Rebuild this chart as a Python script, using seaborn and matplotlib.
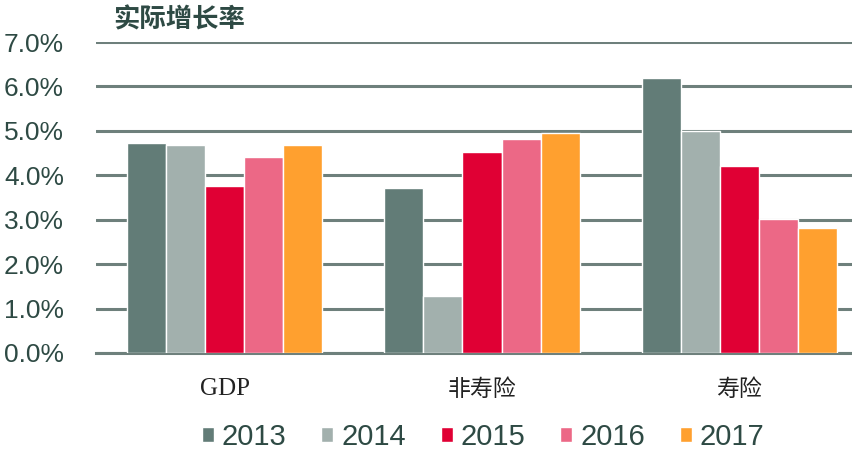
import matplotlib
matplotlib.use("Agg")
import matplotlib.pyplot as plt
import seaborn as sns
import pandas as pd
from matplotlib.ticker import FuncFormatter
from matplotlib import font_manager

categories = ["GDP", "非寿险", "寿险"]
years = ["2013", "2014", "2015", "2016", "2017"]
values = {
    "2013": [4.73, 3.72, 6.19],
    "2014": [4.68, 1.28, 5.00],
    "2015": [3.76, 4.53, 4.21],
    "2016": [4.41, 4.82, 3.02],
    "2017": [4.68, 4.95, 2.82],
}
colors = ["#627C77", "#A2B0AD", "#E00034", "#EC6886", "#FFA02F"]
yticks = [0, 1, 2, 3, 4, 5, 6, 7]

rows = []
for y in years:
    for c, v in zip(categories, values[y]):
        rows.append({"cat": c, "year": y, "val": v})
df = pd.DataFrame(rows)

sns.set_theme(style="white")
plt.rcParams["font.family"] = ["Liberation Sans", "Noto Sans CJK SC"]
text_color = "#2E4A44"

installed = {f.name for f in font_manager.fontManager.ttflist}
serif_cond = "DejaVu Serif Condensed" in installed

W, H = 853, 454
fig = plt.figure(figsize=(W / 100, H / 100), dpi=100)
ax = fig.add_axes([96 / W, (H - 353) / H, 772 / W, 311 / H])

sns.barplot(data=df, x="cat", y="val", hue="year", order=categories,
            hue_order=years, palette=colors, width=0.76, saturation=1,
            edgecolor="white", linewidth=1, ax=ax, zorder=3)

ax.set_ylim(0, 7)
ax.set_xlim(-0.5, 2.5)
ax.set_yticks(yticks)
ax.yaxis.set_major_formatter(FuncFormatter(lambda v, p: f"{v:.1f}%"))
ax.grid(axis="y", color="#6E807C", linewidth=2.2, zorder=0)
ax.set_axisbelow(True)
for s in ["top", "right", "left"]:
    ax.spines[s].set_visible(False)
ax.spines["bottom"].set_color("#6E807C")
ax.spines["bottom"].set_linewidth(2.2)
ax.tick_params(axis="y", length=0, pad=23, labelsize=19, labelcolor=text_color)
ax.tick_params(axis="x", length=0, pad=18)
for lab in ax.get_xticklabels():
    if lab.get_text() == "GDP":
        if serif_cond:
            lab.set_fontfamily(["DejaVu Serif Condensed"])
            lab.set_fontsize(17)
        else:
            lab.set_fontfamily(["Liberation Serif"])
            lab.set_fontsize(18)
    else:
        lab.set_fontfamily(["Noto Sans CJK SC"])
        lab.set_fontsize(16.5)
    lab.set_color("#222222")
ax.set_xlabel("")
ax.set_ylabel("")

fig.text(113 / W, 1 - 20 / H, "实际增长率", fontsize=19, fontweight="bold",
         color=text_color, family=["Noto Sans CJK SC", "DejaVu Sans"],
         ha="left", va="center")

handles, labels = ax.get_legend_handles_labels()
fig.legend(handles, labels, loc="center", bbox_to_anchor=(483 / W, 1 - 437 / H),
           ncol=5, frameon=False, fontsize=21, handlelength=0.41,
           handleheight=0.41, handletextpad=0.27, columnspacing=1.2,
           labelcolor=text_color, borderpad=0)
if ax.get_legend() is not None:
    ax.get_legend().remove()

fig.savefig("out.png", dpi=100)
